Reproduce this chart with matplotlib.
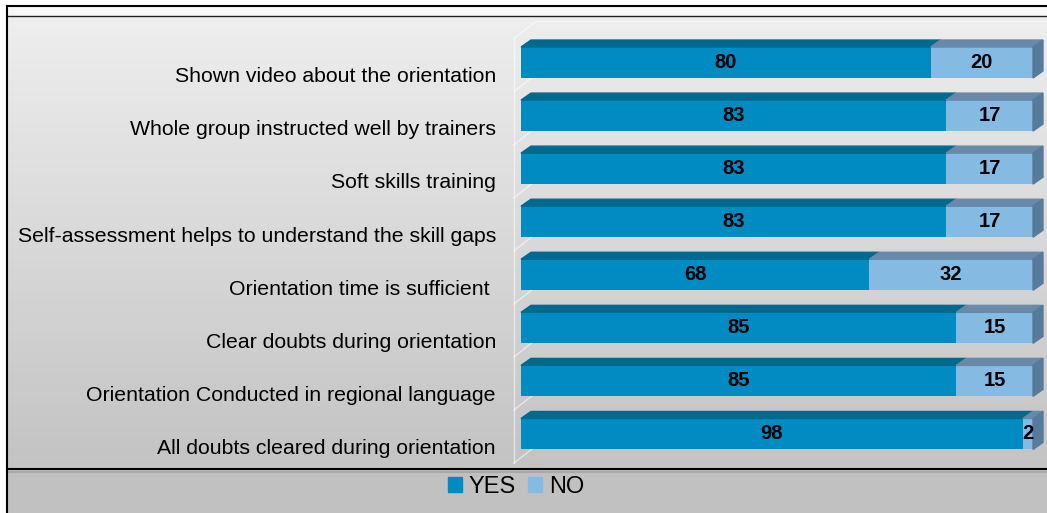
import matplotlib.pyplot as plt
import numpy as np
from matplotlib.patches import Polygon, Rectangle

plt.rcParams['font.family'] = ['Liberation Sans', 'DejaVu Sans']

# data (top to bottom as shown)
categories = ['Shown video about the orientation',
              'Whole group instructed well by trainers',
              'Soft skills training',
              'Self-assessment helps to understand the skill gaps',
              'Orientation time is sufficient ',
              'Clear doubts during orientation',
              'Orientation Conducted in regional language',
              'All doubts cleared during orientation']
yes = [80, 83, 83, 83, 68, 85, 85, 98]
no = [20, 17, 17, 17, 32, 15, 15, 2]

c_yes, c_yes_top = '#008bc3', '#006a8e'
c_no, c_no_top = '#85bbe2', '#6889a9'
c_side = '#577b9b'

W, H = 1047, 513
fig = plt.figure(figsize=(W / 100, H / 100), dpi=100)

# background panel with frame lines (pixel coordinates)
bg = fig.add_axes([0, 0, 1, 1])
bg.set_xlim(0, W)
bg.set_ylim(H, 0)
bg.axis('off')
grad = np.linspace(0, 1, 256)[:, None]
bg.imshow(grad, cmap=plt.matplotlib.colors.LinearSegmentedColormap.from_list('g', ['#eeeeee', '#c3c3c3']),
          extent=[7, W, 469, 16], aspect='auto', zorder=0)
bg.add_patch(Rectangle((7, 469), W - 7, H - 469, color='#c1c1c1', zorder=0))
bg.add_patch(Rectangle((7, 6), W - 7, 10, color='#f7f7f7', zorder=0))
bg.plot([7, W], [6, 6], color='black', lw=1.5, zorder=2)
bg.plot([7, W], [16, 16], color='#222222', lw=1.0, zorder=2)
bg.plot([7, 7], [6, H], color='black', lw=1.5, zorder=2)
bg.plot([7, W], [469, 469], color='black', lw=1.5, zorder=2)
bg.plot([7, W], [471.5, 471.5], color='#999999', lw=1.5, alpha=0.6, zorder=1)

# main bar axes
ax = fig.add_axes([521 / W, 1 - 460.5 / H, 512 / W, 424.5 / H])
ax.set_xlim(0, 100)
ax.set_ylim(-0.5, len(categories) - 0.5)
ax.axis('off')
ax.patch.set_alpha(0)

n = len(categories)
ypos = np.arange(n)[::-1]
h = 0.584
dx, dy = 1.95, 0.132

# back wall lines
wall_x0, wall_x1, wall_dy = -1.4, 3.1, 0.34
wall_kw = dict(color='white', lw=1, alpha=0.55, clip_on=False)
ax.plot([wall_x0, wall_x0], [-0.55, n - 0.55], **wall_kw)
for yb in np.arange(-0.55, n, 1.0):
    ax.plot([wall_x0, wall_x1], [yb, yb + wall_dy], **wall_kw)
ax.plot([wall_x1, 104], [n - 0.55 + wall_dy] * 2, **wall_kw)

ax.barh(ypos, yes, height=h, color=c_yes, zorder=3)
ax.barh(ypos, no, left=yes, height=h, color=c_no, zorder=3)

for y, a, b in zip(ypos, yes, no):
    top = y + h / 2
    # top faces
    ax.add_patch(Polygon([[0, top], [dx, top + dy], [a + dx, top + dy], [a, top]],
                         closed=True, color=c_yes_top, zorder=3, clip_on=False))
    ax.add_patch(Polygon([[a, top], [a + dx, top + dy], [a + b + dx, top + dy], [a + b, top]],
                         closed=True, color=c_no_top, zorder=3, clip_on=False))
    # side face
    ax.add_patch(Polygon([[a + b, y - h / 2], [a + b, top], [a + b + dx, top + dy], [a + b + dx, y - h / 2 + dy]],
                         closed=True, color=c_side, zorder=3, clip_on=False))
    ax.text(a / 2, y, str(a), ha='center', va='center', fontsize=14.5, fontweight='bold', zorder=4)
    ax.text(a + b / 2, y, str(b), ha='center', va='center', fontsize=14.5, fontweight='bold', zorder=4)

for y, lab in zip(ypos, categories):
    ax.text(-4.9, y - 0.27, lab, ha='right', va='center', fontsize=15.3, clip_on=False)

handles = [Rectangle((0, 0), 1, 1, color=c_yes), Rectangle((0, 0), 1, 1, color=c_no)]
fig.legend(handles, ['YES', 'NO'], loc='center', bbox_to_anchor=(516 / W, 1 - 487 / H), ncol=2,
           frameon=False, fontsize=17, handlelength=0.6, handleheight=0.6, handletextpad=0.3,
           columnspacing=0.5)

fig.savefig('out.png', dpi=100)
